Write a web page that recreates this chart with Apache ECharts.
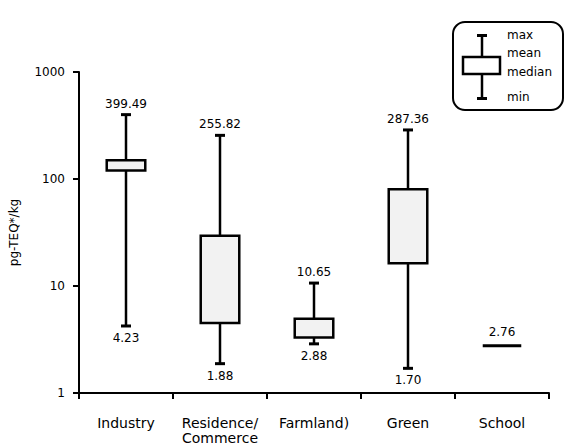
<!DOCTYPE html>
<html>
<head>
<meta charset="utf-8">
<script src="https://cdn.jsdelivr.net/npm/echarts@6/dist/echarts.min.js"></script>
<style>
  html, body { margin: 0; padding: 0; background: #fff; }
  #chart { width: 564px; height: 445px; }
</style>
</head>
<body>
<div id="chart"></div>
<script>
// Land-use categories
const categories = ['Industry', 'Residence/\nCommerce', 'Farmland)', 'Green', 'School'];
// Summary statistics per category (pg-TEQ*/kg)
const maxValues    = [399.49, 255.82, 10.65, 287.36, 2.76];
const meanValues   = [150, 29.5, 4.95, 80, 2.76];
const medianValues = [120, 4.5, 3.3, 16.3, 2.76];
const minValues    = [4.23, 1.88, 2.88, 1.70, 2.76];
// Y tick values
const yTicks = [1, 10, 100, 1000];

const FONT = 'DejaVu Sans';
const boxData = categories.map((c, i) => [i, maxValues[i], meanValues[i], medianValues[i], minValues[i]]);

function renderBox(params, api) {
  const i = api.value(0);
  const vMax = api.value(1), vMean = api.value(2), vMed = api.value(3), vMin = api.value(4);
  const pMax = api.coord([i, vMax]);
  const pTop = api.coord([i, Math.max(vMean, vMed)]);
  const pBot = api.coord([i, Math.min(vMean, vMed)]);
  const pMin = api.coord([i, vMin]);
  const band = api.coord([1, 1])[0] - api.coord([0, 1])[0];
  const bw = band * 0.41;
  const x = pMax[0];
  const single = vMax === vMin;
  const children = [];
  if (single) {
    // all statistics coincide: a single thick bar
    children.push({ type: 'rect', shape: { x: x - bw / 2, y: pMax[1] - 1.5, width: bw, height: 3 },
      style: { fill: '#000' } });
  } else {
    children.push(
      { type: 'line', shape: { x1: x, y1: pMax[1], x2: x, y2: pMin[1] },
        style: { stroke: '#000', lineWidth: 2.5 } },
      { type: 'rect', shape: { x: x - bw / 2, y: pTop[1], width: bw, height: pBot[1] - pTop[1] },
        style: { fill: '#f2f2f2', stroke: '#000', lineWidth: 2.5 } },
      { type: 'rect', shape: { x: x - 5, y: pMax[1] - 1.5, width: 10, height: 3 }, style: { fill: '#000' } },
      { type: 'rect', shape: { x: x - 5, y: pMin[1] - 1.5, width: 10, height: 3 }, style: { fill: '#000' } },
      { type: 'text', x: x, y: pMin[1] + 12,
        style: { text: vMin.toFixed(2), font: '12px "' + FONT + '"', fill: '#000',
                 align: 'center', verticalAlign: 'middle' } }
    );
  }
  children.push({ type: 'text', x: x, y: pMax[1] - (single ? 14 : 11),
    style: { text: vMax.toFixed(2), font: '12px "' + FONT + '"', fill: '#000',
             align: 'center', verticalAlign: 'middle' } });
  return { type: 'group', children: children };
}

const chart = echarts.init(document.getElementById('chart'), null, { renderer: 'svg' });
chart.setOption({
  animation: false,
  backgroundColor: '#fff',
  textStyle: { fontFamily: FONT, color: '#000' },
  grid: { left: 78, right: 15, top: 72, bottom: 52 },
  xAxis: {
    type: 'category',
    data: categories,
    boundaryGap: true,
    axisLine: { lineStyle: { color: '#000', width: 2 } },
    axisTick: { show: true, length: 6, lineStyle: { color: '#000', width: 2 } },
    axisLabel: { color: '#000', fontSize: 14, fontFamily: FONT, margin: 22, lineHeight: 15, interval: 0 },
    splitLine: { show: false }
  },
  yAxis: {
    type: 'log',
    logBase: 10,
    min: yTicks[0],
    max: yTicks[yTicks.length - 1],
    name: 'pg-TEQ*/kg',
    nameLocation: 'middle',
    nameRotate: 90,
    nameGap: 59,
    nameTextStyle: { color: '#000', fontSize: 12, fontFamily: FONT },
    axisLine: { show: true, lineStyle: { color: '#000', width: 2 } },
    axisTick: { show: true, length: 6, lineStyle: { color: '#000', width: 2 } },
    minorTick: { show: false },
    axisLabel: { color: '#000', fontSize: 12, fontFamily: FONT, margin: 14,
                 formatter: v => String(Math.round(v)) },
    splitLine: { show: false }
  },
  series: [{
    type: 'custom',
    renderItem: renderBox,
    data: boxData,
    encode: { x: 0, y: [1, 2, 3, 4] },
    clip: false
  }],
  graphic: [
    { type: 'rect', shape: { x: 453, y: 22, width: 110, height: 88, r: 12 },
      style: { fill: '#fff', stroke: '#000', lineWidth: 2 } },
    { type: 'line', shape: { x1: 482, y1: 35, x2: 482, y2: 98 },
      style: { stroke: '#000', lineWidth: 2.5 } },
    { type: 'rect', shape: { x: 477, y: 34, width: 10, height: 3 }, style: { fill: '#000' } },
    { type: 'rect', shape: { x: 477, y: 97, width: 10, height: 3 }, style: { fill: '#000' } },
    { type: 'rect', shape: { x: 463, y: 57, width: 37, height: 17 },
      style: { fill: '#fff', stroke: '#000', lineWidth: 2.5 } },
    { type: 'text', x: 507, y: 35, style: { text: 'max', font: '12px "' + FONT + '"', fill: '#000', verticalAlign: 'middle' } },
    { type: 'text', x: 507, y: 53, style: { text: 'mean', font: '12px "' + FONT + '"', fill: '#000', verticalAlign: 'middle' } },
    { type: 'text', x: 507, y: 72, style: { text: 'median', font: '12px "' + FONT + '"', fill: '#000', verticalAlign: 'middle' } },
    { type: 'text', x: 507, y: 97, style: { text: 'min', font: '12px "' + FONT + '"', fill: '#000', verticalAlign: 'middle' } }
  ]
});
</script>
</body>
</html>
